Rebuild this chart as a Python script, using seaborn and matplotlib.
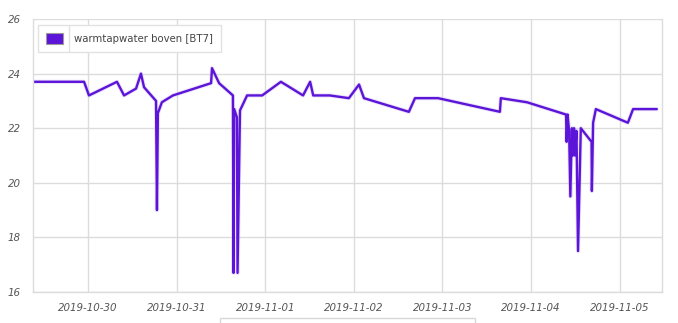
import matplotlib
matplotlib.use("Agg")
import matplotlib.pyplot as plt
import matplotlib.dates as mdates
import matplotlib.patheffects as pe
from matplotlib.patches import Rectangle
from matplotlib.lines import Line2D
import pandas as pd
import seaborn as sns

# Hot-water sensor readings (top of tank, BT7)
timestamps = [
    "2019-10-29 09:05", "2019-10-29 22:55", "2019-10-30 00:15", "2019-10-30 07:50",
    "2019-10-30 09:45", "2019-10-30 13:00", "2019-10-30 14:20", "2019-10-30 15:10",
    "2019-10-30 18:25", "2019-10-30 18:40", "2019-10-30 18:55", "2019-10-30 20:00",
    "2019-10-30 23:00", "2019-10-31 09:20", "2019-10-31 09:35", "2019-10-31 11:30",
    "2019-10-31 15:15", "2019-10-31 15:25", "2019-10-31 15:35", "2019-10-31 16:20",
    "2019-10-31 16:30", "2019-10-31 17:10", "2019-10-31 19:05", "2019-10-31 23:10",
    "2019-11-01 04:15", "2019-11-01 10:15", "2019-11-01 12:10", "2019-11-01 13:00",
    "2019-11-01 17:30", "2019-11-01 22:40", "2019-11-02 01:25", "2019-11-02 02:45",
    "2019-11-02 14:55", "2019-11-02 16:35", "2019-11-02 22:50", "2019-11-03 15:35",
    "2019-11-03 15:50", "2019-11-03 22:55", "2019-11-04 09:30", "2019-11-04 09:40",
    "2019-11-04 09:55", "2019-11-04 10:20", "2019-11-04 10:40", "2019-11-04 11:05",
    "2019-11-04 11:20", "2019-11-04 11:40", "2019-11-04 11:55", "2019-11-04 12:20",
    "2019-11-04 12:45", "2019-11-04 13:30", "2019-11-04 16:25", "2019-11-04 16:30",
    "2019-11-04 16:50", "2019-11-04 17:35", "2019-11-05 02:15", "2019-11-05 03:40",
    "2019-11-05 10:05",
]
temperatures = [
    23.7, 23.7, 23.2, 23.7,
    23.2, 23.45, 24.0, 23.5,
    23.0, 19.0, 22.55, 22.95,
    23.2, 23.65, 24.2, 23.65,
    23.2, 16.7, 22.7, 22.4,
    16.7, 22.65, 23.2, 23.2,
    23.7, 23.2, 23.7, 23.2,
    23.2, 23.1, 23.6, 23.1,
    22.6, 23.1, 23.1, 22.6,
    23.1, 22.95, 22.5, 21.5,
    22.5, 21.9, 19.5, 22.0,
    21.0, 22.0, 21.0, 21.9,
    17.5, 22.0, 21.5, 19.7,
    22.2, 22.7, 22.2, 22.7,
    22.7,
]
series_name = "warmtapwater boven [BT7]"
y_ticks = [16, 18, 20, 22, 24, 26]
x_tick_days = ["2019-10-30", "2019-10-31", "2019-11-01", "2019-11-02",
               "2019-11-03", "2019-11-04", "2019-11-05"]

df = pd.DataFrame({
    "time": pd.to_datetime(timestamps),
    "temp": temperatures,
    "sensor": series_name,
})

line_color = "#5c14d8"
grid_color = "#dcdcdc"
tick_color = "#555555"

sns.set_style("white")
plt.rcParams["font.family"] = ["DejaVu Sans"]

W, H = 678, 323
fig = plt.figure(figsize=(W / 100, H / 100), dpi=100)
ax = fig.add_axes([33 / W, 1 - 292 / H, (662 - 33) / W, (292 - 19) / H])

sns.lineplot(data=df, x="time", y="temp", hue="sensor",
             palette=[line_color], linewidth=1.7, ax=ax, legend=False,
             path_effects=[pe.Stroke(linewidth=3.0, foreground="#cdbdf2", alpha=0.45),
                           pe.Normal()])

ax.set_xlim(pd.Timestamp("2019-10-29 09:05"), pd.Timestamp("2019-11-05 11:30"))
ax.set_ylim(16, 26)
ax.set_yticks(y_ticks)
ax.set_xticks(pd.to_datetime(x_tick_days))
ax.xaxis.set_major_formatter(mdates.DateFormatter("%Y-%m-%d"))
ax.set_xlabel("")
ax.set_ylabel("")

ax.grid(True, color=grid_color, linewidth=1.0)
ax.set_axisbelow(True)
for side in ["right", "left", "bottom"]:
    ax.spines[side].set_visible(True)
    ax.spines[side].set_color(grid_color)
    ax.spines[side].set_linewidth(1.0)
ax.spines["top"].set_visible(False)

ax.tick_params(axis="both", length=0, labelsize=7.4, labelcolor=tick_color)
ax.tick_params(axis="x", pad=8)
ax.tick_params(axis="y", pad=9)
for lab in ax.get_xticklabels() + ax.get_yticklabels():
    lab.set_fontstyle("italic")

# legend: swatch box + label, with a thin separator between them
handle = Rectangle((0, 0), 1, 1, facecolor=line_color, edgecolor="#9a9a9a", linewidth=0.8)
leg = ax.legend([handle], [series_name], loc="upper left",
                bbox_to_anchor=(5 / 629, 1 - 6 / 273), borderaxespad=0,
                frameon=True, fancybox=False,
                fontsize=7.3, handlelength=1.7, handleheight=1.3,
                handletextpad=1.1, borderpad=0.78, labelcolor="#444444")
leg.get_frame().set_edgecolor("#e2e2e2")
leg.get_frame().set_linewidth(1.0)
leg.get_frame().set_facecolor("white")
leg.get_frame().set_alpha(1.0)

fig.canvas.draw()
bb = leg.get_window_extent()
sw = leg.legend_handles[0].get_window_extent() if hasattr(leg, "legend_handles") else None
sep_x = (sw.x1 + 6) if sw is not None else bb.x0 + 30
fig.add_artist(Line2D([sep_x, sep_x], [bb.y0, bb.y1], transform=None,
                      color="#e2e2e2", linewidth=1.0))

# partial frame of the panel beneath the chart
fig.patches.append(Rectangle((220 / W, -0.05), (475 - 220) / W, (0.05 + 5 / H),
                             transform=fig.transFigure, fill=False,
                             edgecolor="#d8d8d8", linewidth=1.0))

fig.savefig("out.png", dpi=100)
